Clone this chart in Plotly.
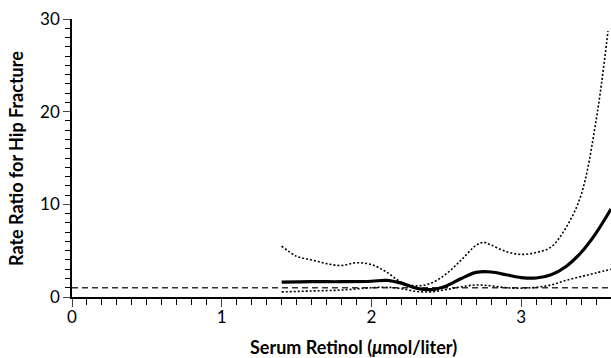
import plotly.graph_objects as go

x_rr = [1.4, 1.6, 1.8, 2.0, 2.1, 2.2, 2.3, 2.4, 2.5, 2.6, 2.7, 2.8, 2.9, 3.0, 3.1, 3.2, 3.3, 3.4, 3.5, 3.6]
rr = [1.6, 1.65, 1.65, 1.7, 1.8, 1.5, 0.95, 0.8, 1.2, 2.0, 2.65, 2.7, 2.4, 2.1, 2.05, 2.4, 3.3, 4.8, 6.9, 9.5]

x_up = [1.4, 1.5, 1.6, 1.7, 1.8, 1.9, 2.0, 2.1, 2.2, 2.3, 2.4, 2.5, 2.6, 2.7, 2.75, 2.8, 2.9, 3.0, 3.1, 3.2, 3.3, 3.4, 3.5, 3.58]
upper = [5.5, 4.4, 4.0, 3.6, 3.4, 3.7, 3.5, 2.7, 1.6, 1.2, 1.5, 2.5, 4.0, 5.6, 5.9, 5.6, 4.9, 4.6, 4.8, 5.4, 7.5, 11.0, 19.0, 28.7]

x_lo = [1.4, 1.6, 1.8, 2.0, 2.1, 2.2, 2.3, 2.4, 2.5, 2.6, 2.7, 2.8, 2.9, 3.0, 3.1, 3.2, 3.3, 3.4, 3.5, 3.6]
lower = [0.55, 0.65, 0.75, 1.0, 1.05, 0.9, 0.6, 0.55, 0.8, 1.1, 1.3, 1.2, 1.0, 0.95, 1.05, 1.3, 1.8, 2.2, 2.6, 3.0]

ref_x = [0, 3.6]
ref_y = [1, 1]

x_ticks = [0, 1, 2, 3]
y_ticks = [0, 10, 20, 30]

x_title = "<b>Serum Retinol (<i>μ</i>mol/liter)</b>"
y_title = "<b>Rate Ratio for Hip Fracture</b>"

fig = go.Figure()
fig.add_trace(go.Scatter(x=ref_x, y=ref_y, mode="lines", cliponaxis=False,
                         line=dict(color="#333", width=1.3, dash="6px,4px")))
fig.add_trace(go.Scatter(x=x_up, y=upper, mode="lines",
                         line=dict(color="black", width=1.6, dash="2px,2px", shape="spline", smoothing=1.0)))
fig.add_trace(go.Scatter(x=x_lo, y=lower, mode="lines",
                         line=dict(color="black", width=1.6, dash="2px,2px", shape="spline", smoothing=1.0)))
fig.add_trace(go.Scatter(x=x_rr, y=rr, mode="lines",
                         line=dict(color="black", width=3.2, shape="spline", smoothing=1.0)))

font_family = "Lato, 'Open Sans', sans-serif"
fig.update_layout(
    width=611, height=358,
    margin=dict(l=72, r=0, t=19, b=61, autoexpand=False),
    paper_bgcolor="white", plot_bgcolor="white",
    showlegend=False,
    font=dict(family=font_family, size=16, color="black"),
    xaxis=dict(range=[0, 3.6], tickvals=x_ticks, ticks="outside", ticklen=8, tickwidth=1.2,
               showline=True, linecolor="black", linewidth=1.5, showgrid=False, zeroline=False,
               tickfont=dict(size=17), automargin=False, ticklabelstandoff=-4,
               minor=dict(dtick=0.1, tick0=0, ticks="outside", ticklen=6, tickwidth=1.2, tickcolor="black", showgrid=False)),
    yaxis=dict(range=[0, 30], tickvals=y_ticks, ticks="outside", ticklen=7, tickwidth=1.2,
               showline=True, linecolor="black", linewidth=1.5, showgrid=False, zeroline=False,
               tickfont=dict(size=17), automargin=False,
               minor=dict(dtick=1, tick0=0, ticks="outside", ticklen=5, tickwidth=1.2, tickcolor="black", showgrid=False)),
    annotations=[
        dict(text=x_title, xref="paper", yref="paper", x=0.523, y=-0.18, xanchor="center", yanchor="middle",
             showarrow=False, font=dict(size=18)),
        dict(text=y_title, xref="paper", yref="paper", x=-0.104, y=0.5, xanchor="center", yanchor="middle",
             textangle=-90, showarrow=False, font=dict(size=18)),
    ],
)

fig.write_html("out.html", config={"displayModeBar": False},
               post_script="document.body.style.margin='0';document.body.style.overflow='hidden';")
